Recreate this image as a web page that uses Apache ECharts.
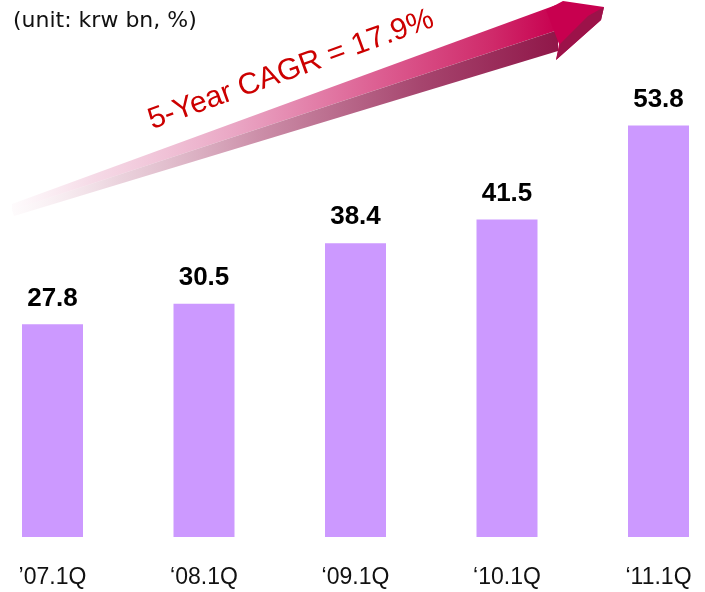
<!DOCTYPE html>
<html>
<head>
<meta charset="utf-8">
<script src="https://cdn.jsdelivr.net/npm/echarts@6/dist/echarts.min.js"></script>
<style>
  html, body { margin: 0; padding: 0; background: #fff; }
  #chart { width: 705px; height: 592px; }
</style>
</head>
<body>
<div id="chart"></div>
<script>
// Quarterly figures, krw bn
const categories = ['\u201907.1Q', '\u201808.1Q', '\u201809.1Q', '\u201810.1Q', '\u201811.1Q'];
const values = [27.8, 30.5, 38.4, 41.5, 53.8];
const unitNote = '(unit: krw bn, %)';
const cagrNote = '5-Year CAGR = 17.9%';

const chart = echarts.init(document.getElementById('chart'), null, { renderer: 'canvas' });

// Growth arrow: two shaded faces of the shaft plus the head
const arrowShapes = [
  {
    type: 'polygon', z: 1,
    shape: { points: [[12, 204], [556, 5], [558, 30], [12, 210]] },
    style: {
      fill: { type: 'linear', x: 0, y: 0, x2: 1, y2: 0, colorStops: [
        { offset: 0, color: 'rgba(245,215,228,0.1)' },
        { offset: 0.15, color: 'rgba(242,205,222,0.75)' },
        { offset: 0.42, color: '#e9a3c2' },
        { offset: 0.68, color: '#dc5c90' },
        { offset: 0.88, color: '#cf2a6a' },
        { offset: 1, color: '#c8004f' }
      ] }
    }
  },
  {
    type: 'polygon', z: 1,
    shape: { points: [[12, 210], [558, 30], [558, 51], [14, 216]] },
    style: {
      fill: { type: 'linear', x: 0, y: 0, x2: 1, y2: 0, colorStops: [
        { offset: 0, color: 'rgba(240,215,225,0.1)' },
        { offset: 0.2, color: 'rgba(225,190,205,0.7)' },
        { offset: 0.45, color: '#cc8fa9' },
        { offset: 0.75, color: '#a6456e' },
        { offset: 1, color: '#901749' }
      ] }
    }
  },
  {
    type: 'polygon', z: 2,
    shape: { points: [[546, 10], [563, 1], [604, 7], [601, 20], [556, 60], [559, 44]] },
    style: { fill: '#c8004f' }
  },
  {
    type: 'polygon', z: 2,
    shape: { points: [[604, 7], [601, 20], [556, 60], [560, 44], [588, 16]] },
    style: { fill: '#9c1249' }
  }
];

const option = {
  animation: false,
  backgroundColor: '#ffffff',
  grid: { left: 52.5, right: 46.5, top: 78, bottom: 55, containLabel: false },
  xAxis: {
    type: 'category',
    data: categories,
    boundaryGap: false,
    axisLine: { show: false },
    axisTick: { show: false },
    splitLine: { show: false },
    axisLabel: {
      margin: 29,
      fontFamily: 'Liberation Sans, Arial, sans-serif',
      fontSize: 23,
      color: '#111111'
    }
  },
  yAxis: {
    type: 'value',
    min: 0,
    max: 60,
    show: false,
    splitLine: { show: false }
  },
  series: [{
    type: 'bar',
    data: values,
    barWidth: 61,
    itemStyle: { color: '#cc99ff' },
    label: {
      show: true,
      position: 'top',
      distance: 13,
      fontFamily: 'Liberation Sans, Arial, sans-serif',
      fontWeight: 'bold',
      fontSize: 26,
      color: '#000000'
    }
  }],
  graphic: arrowShapes.concat([
    {
      type: 'text', z: 10,
      left: 13, top: 10,
      style: {
        text: unitNote,
        font: '22px "DejaVu Sans", Tahoma, sans-serif',
        fill: '#111111'
      }
    },
    {
      type: 'text', z: 10,
      x: 291, y: 70,
      rotation: 20 * Math.PI / 180,
      style: {
        text: cagrNote,
        font: '30px "Liberation Sans", Arial, sans-serif',
        fill: '#cc0000',
        align: 'center',
        verticalAlign: 'middle'
      }
    }
  ])
};

chart.setOption(option);
</script>
</body>
</html>
